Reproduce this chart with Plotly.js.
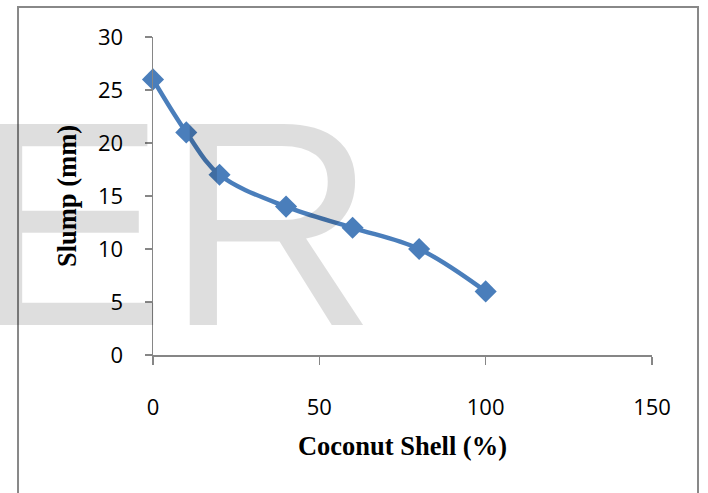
<!DOCTYPE html>
<html>
<head>
<meta charset="utf-8">
<script src="https://cdn.plot.ly/plotly-3.0.1.min.js"></script>
<style>html,body{margin:0;padding:0;background:#fff;}#chart{width:708px;height:493px;}</style>
</head>
<body>
<div id="chart"></div>
<script>
const coconutShell = [0, 10, 20, 40, 60, 80, 100];
const slump = [26, 21, 17, 14, 12, 10, 6];
const xTicks = [0, 50, 100, 150];
const yTicks = [0, 5, 10, 15, 20, 25, 30];
const xTitle = 'Coconut Shell (%)';
const yTitle = 'Slump (mm)';
const watermark = 'ER';

const trace = {
  x: coconutShell,
  y: slump,
  type: 'scatter',
  mode: 'lines+markers',
  line: {color: '#4A7EBB', width: 4.5, shape: 'spline', smoothing: 1},
  marker: {symbol: 'diamond', size: 17, color: '#4A7EBB'},
  cliponaxis: false,
  showlegend: false
};

const layout = {
  width: 708, height: 493,
  margin: {l: 153, r: 56, t: 37, b: 138},
  paper_bgcolor: '#fff', plot_bgcolor: 'rgba(0,0,0,0)',
  font: {family: 'Open Sans', color: '#000'},
  xaxis: {
    range: [0, 150], tickvals: xTicks, ticktext: xTicks.map(String),
    showgrid: false, zeroline: false, showline: true, linecolor: '#868686', linewidth: 1.5,
    ticks: 'outside', ticklen: 8, tickwidth: 1.5, tickcolor: '#868686',
    tickfont: {family: 'Open Sans', size: 22, color: '#000'},
    ticklabelstandoff: 24,
    title: {text: xTitle, font: {family: 'Liberation Serif', size: 26.5, color: '#000', weight: 'bold'}, standoff: 16},
    automargin: false
  },
  yaxis: {
    range: [0, 30], tickvals: yTicks, ticktext: yTicks.map(String),
    showgrid: false, zeroline: false, showline: true, linecolor: '#868686', linewidth: 1.5,
    ticks: 'outside', ticklen: 7, tickwidth: 1.5, tickcolor: '#868686',
    tickfont: {family: 'Open Sans', size: 22, color: '#000'},
    ticklabelstandoff: 17,
    title: {text: yTitle, font: {family: 'Liberation Serif', size: 26.5, color: '#000', weight: 'bold'}, standoff: 13},
    automargin: false
  },
  shapes: [{
    type: 'rect', xref: 'paper', yref: 'paper',
    x0: -0.2705, x1: 1.0922, y0: -0.6, y1: 1.0943,
    line: {color: '#888888', width: 2}, layer: 'above'
  }],
  annotations: [{
    text: watermark, xref: 'paper', yref: 'paper',
    x: -0.369, y: 0.4104, xanchor: 'left', yanchor: 'middle',
    showarrow: false,
    font: {family: 'Liberation Sans', size: 292, color: 'rgba(0,0,0,0.13)'}
  }]
};

Plotly.newPlot('chart', [trace], layout, {displayModeBar: false, staticPlot: true});
</script>
</body>
</html>
